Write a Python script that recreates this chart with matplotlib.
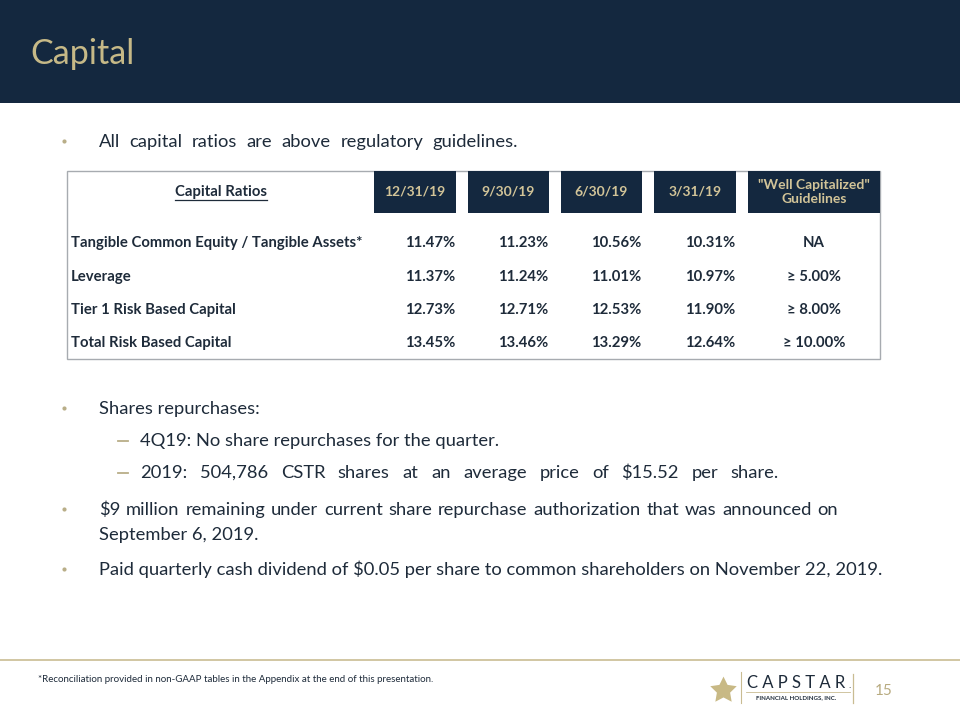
import matplotlib
matplotlib.use("Agg")
import matplotlib.pyplot as plt
from matplotlib.patches import Rectangle

# ---------------- data ----------------
title = "Capital"
row_labels = ["Tangible Common Equity / Tangible Assets*", "Leverage",
              "Tier 1 Risk Based Capital", "Total Risk Based Capital"]
periods = ["12/31/19", "9/30/19", "6/30/19", "3/31/19"]
q4_2019 = ["11.47%", "11.37%", "12.73%", "13.45%"]
q3_2019 = ["11.23%", "11.24%", "12.71%", "13.46%"]
q2_2019 = ["10.56%", "11.01%", "12.53%", "13.29%"]
q1_2019 = ["10.31%", "10.97%", "11.90%", "12.64%"]
guideline_header = "\"Well Capitalized\"\nGuidelines"
guidelines = ["NA", "\u2265 5.00%", "\u2265 8.00%", "\u2265 10.00%"]
intro_bullet = "All capital ratios are above regulatory guidelines."
repurchase_bullet = "Shares repurchases:"
repurchase_items = ["4Q19: No share repurchases for the quarter.",
                    "2019: 504,786 CSTR shares at an average price of $15.52 per share."]
authorization_bullet = ["$9 million remaining under current share repurchase authorization that was announced on",
                        "September 6, 2019."]
dividend_bullet = "Paid quarterly cash dividend of $0.05 per share to common shareholders on November 22, 2019."
footnote = "*Reconciliation provided in non-GAAP tables in the Appendix at the end of this presentation."
page_number = "15"

# ---------------- style ----------------
NAVY = "#14283f"
GOLD = "#c6b987"
HGOLD = "#d2c498"
TEXT = "#1e2b3a"
DOT = "#b9ae88"
FONT = "Lato"

fig = plt.figure(figsize=(9.6, 7.2), dpi=100)
ax = fig.add_axes([0, 0, 1, 1])
ax.set_xlim(0, 960)
ax.set_ylim(720, 0)
ax.axis("off")
renderer = fig.canvas.get_renderer()


def text_w(text, size, weight="normal", family=FONT):
    t = ax.text(0, 0, text, fontsize=size, fontweight=weight, family=family)
    w = t.get_window_extent(renderer).width
    t.remove()
    return w


def fit(text, target_w, weight="normal", family=FONT, base=10.0):
    return base * target_w / text_w(text, base, weight, family)


# header band
ax.add_patch(Rectangle((0, 0), 960, 103, color=NAVY, lw=0))
fs_title = fit(title, 101) * 1.03
ax.text(30, 64, title, fontsize=fs_title, color=GOLD, family=FONT, va="baseline")

# body text
fs_body = fit(dividend_bullet, 784)


def line(x, y, txt, right=None):
    """Draw a body line; if right is given, spread words to end at that x."""
    if right is None:
        ax.text(x, y, txt, fontsize=fs_body, color=TEXT, family=FONT, va="baseline")
        return
    words = txt.split(" ")
    widths = [text_w(w, fs_body) for w in words]
    gap = (right - x - sum(widths)) / (len(words) - 1)
    cx = x
    for w, ww in zip(words, widths):
        ax.text(cx, y, w, fontsize=fs_body, color=TEXT, family=FONT, va="baseline")
        cx += ww + gap


def bullet(y, txt, right=None):
    ax.plot(64, y - 6, "o", ms=3.0, color=DOT, mec="none")
    line(99, y, txt, right)


def dash(y, txt, right=None):
    ax.plot([118, 128], [y - 5, y - 5], color=DOT, lw=1.3)
    line(140, y, txt, right)


bullet(147, intro_bullet, right=518)
bullet(414, repurchase_bullet)
dash(446, repurchase_items[0])
dash(478, repurchase_items[1], right=779)
bullet(515, authorization_bullet[0], right=838)
line(99, 540, authorization_bullet[1])
bullet(575, dividend_bullet)

# ---------------- table ----------------
tbl_left, tbl_right, tbl_top, tbl_bottom = 67, 880, 171, 359
ax.add_patch(Rectangle((tbl_left, tbl_top), tbl_right - tbl_left, tbl_bottom - tbl_top,
                       fill=False, ec="#a7abb0", lw=1.0))
col_boxes = [(374, 456), (468, 549), (561, 642), (654, 736), (748, 880)]
hdr_top, hdr_bot = 171, 213
hdr_y = (hdr_top + hdr_bot) / 2
for (x0, x1) in col_boxes:
    ax.add_patch(Rectangle((x0, hdr_top), x1 - x0, hdr_bot - hdr_top, color=NAVY, lw=0))

fs_tbl = fit(row_labels[0], 291, weight="bold")
fs_hdr = fit(periods[0], 61, weight="bold")

ax.text(221, hdr_y, "Capital Ratios", fontsize=fs_tbl, fontweight="bold", color=TEXT,
        family=FONT, ha="center", va="center")
cw = text_w("Capital Ratios", fs_tbl, "bold")
ax.plot([221 - cw / 2, 221 + cw / 2], [hdr_y + 8, hdr_y + 8], color=TEXT, lw=0.9)

for (x0, x1), p in zip(col_boxes[:4], periods):
    ax.text((x0 + x1) / 2, hdr_y, p, fontsize=fs_hdr, fontweight="bold", color=HGOLD,
            family=FONT, ha="center", va="center")
gx = (col_boxes[4][0] + col_boxes[4][1]) / 2
ax.text(gx, hdr_y, guideline_header, fontsize=fs_hdr, fontweight="bold", color=HGOLD,
        family=FONT, ha="center", va="center", linespacing=1.25)

row_y = [243, 277, 310, 343]
columns = [q4_2019, q3_2019, q2_2019, q1_2019]
for i, (lab, y) in enumerate(zip(row_labels, row_y)):
    ax.text(71, y, lab, fontsize=fs_tbl, fontweight="bold", color=TEXT, family=FONT,
            va="center")
    for (x0, x1), col in zip(col_boxes[:4], columns):
        ax.text(x1 - 1, y, col[i], fontsize=fs_tbl, fontweight="bold", color=TEXT,
                family=FONT, ha="right", va="center")
    ax.text(gx, y, guidelines[i], fontsize=fs_tbl, fontweight="bold", color=TEXT,
            family=FONT, ha="center", va="center")

# ---------------- footer ----------------
ax.plot([0, 960], [660, 660], color="#c9bc92", lw=1.2)
fs_foot = fit(footnote, 400)
ax.text(38, 679, footnote, fontsize=fs_foot, color=TEXT, family=FONT, va="center")

# logo
ax.plot(723, 690, marker=(5, 1, 0), ms=20, color="#c8b985", mec="none")
ax.plot([741, 741], [672, 703], color="#c9bc92", lw=0.8)
ax.text(796, 683, "C A P S T A R", fontsize=12, color=TEXT, family=FONT,
        ha="center", va="center")
ax.text(848, 688, ".", fontsize=7, color=TEXT, family=FONT, ha="left", va="baseline")
ax.plot([746, 850], [692, 692], color="#c9bc92", lw=0.6)
ax.text(796, 698, "FINANCIAL HOLDINGS, INC.", fontsize=4.4, fontweight="bold", color=TEXT,
        family=FONT, ha="center", va="center")
ax.plot([853, 853], [674, 703], color="#c9bc92", lw=0.9)
ax.text(884, 691, page_number, fontsize=11, color="#b8ab80", family=FONT, ha="center",
        va="center")

fig.savefig("out.png", dpi=100)
